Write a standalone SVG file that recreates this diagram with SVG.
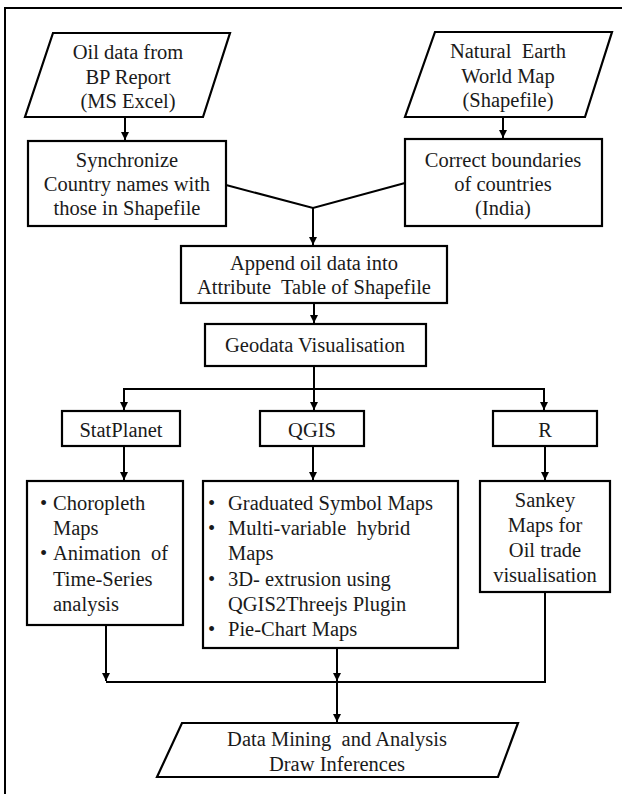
<svg xmlns="http://www.w3.org/2000/svg" width="622" height="794" viewBox="0 0 622 794" font-family="Liberation Serif, DejaVu Serif, serif" font-size="20.5">
<style>
.box{fill:#fff;stroke:#000;stroke-width:2.2}
.ln{fill:none;stroke:#000;stroke-width:2}
text{fill:#1a1a1a;white-space:pre}
.c{text-anchor:middle}
</style>
<defs>
<marker id="ah" markerUnits="userSpaceOnUse" markerWidth="10" markerHeight="10" refX="8" refY="4" orient="auto">
<path d="M0,0 L8,4 L0,8 Z" fill="#000"/>
</marker>
</defs>
<rect width="622" height="794" fill="#fff"/>
<path class="ln" d="M5,800 V8 H630"/>
<g id="connectors">
<line class="ln" x1="125" y1="117" x2="125" y2="140" marker-end="url(#ah)"/>
<line class="ln" x1="503" y1="117" x2="503" y2="138" marker-end="url(#ah)"/>
<polyline class="ln" points="226,185 313,208 405,183"/>
<line class="ln" x1="313" y1="208" x2="313" y2="245" marker-end="url(#ah)"/>
<line class="ln" x1="314" y1="303" x2="314" y2="323" marker-end="url(#ah)"/>
<line class="ln" x1="314" y1="366" x2="314" y2="410" marker-end="url(#ah)"/>
<line class="ln" x1="123" y1="389" x2="545" y2="389"/>
<line class="ln" x1="124" y1="389" x2="124" y2="410" marker-end="url(#ah)"/>
<line class="ln" x1="544" y1="389" x2="544" y2="410" marker-end="url(#ah)"/>
<line class="ln" x1="124" y1="446" x2="124" y2="480" marker-end="url(#ah)"/>
<line class="ln" x1="313" y1="446" x2="313" y2="480" marker-end="url(#ah)"/>
<line class="ln" x1="545" y1="446" x2="545" y2="480" marker-end="url(#ah)"/>
<line class="ln" x1="106" y1="625" x2="106" y2="681" marker-end="url(#ah)"/>
<polyline class="ln" points="106,682 545,682 545,592"/>
<line class="ln" x1="337" y1="648" x2="337" y2="681" marker-end="url(#ah)"/>
<line class="ln" x1="337" y1="682" x2="337" y2="722" marker-end="url(#ah)"/>
</g>
<g id="oil-data">
<polygon class="box" points="53,33 230,33 203,117 25,117"/>
<text class="c" x="128" y="59">Oil data from</text>
<text class="c" x="128" y="84">BP Report</text>
<text class="c" x="128" y="108">(MS Excel)</text>
</g>
<g id="natural-earth">
<polygon class="box" points="435,32 612,32 585,117 405,117"/>
<text class="c" x="508" y="58">Natural  Earth</text>
<text class="c" x="508" y="83">World Map</text>
<text class="c" x="508" y="107">(Shapefile)</text>
</g>
<g id="synchronize">
<rect class="box" x="28" y="141" width="198" height="85"/>
<text class="c" x="127" y="167">Synchronize</text>
<text class="c" x="127" y="191">Country names with</text>
<text class="c" x="127" y="215">those in Shapefile</text>
</g>
<g id="correct-boundaries">
<rect class="box" x="405" y="139" width="197" height="87"/>
<text class="c" x="503" y="167">Correct boundaries</text>
<text class="c" x="503" y="191">of countries</text>
<text class="c" x="503" y="215">(India)</text>
</g>
<g id="append">
<rect class="box" x="181" y="246" width="266" height="57"/>
<text class="c" x="314" y="270">Append oil data into</text>
<text class="c" x="314" y="294">Attribute  Table of Shapefile</text>
</g>
<g id="geodata">
<rect class="box" x="205" y="324" width="221" height="42"/>
<text class="c" x="315" y="352">Geodata Visualisation</text>
</g>
<g id="statplanet">
<rect class="box" x="62" y="411" width="118" height="35"/>
<text class="c" x="121" y="437">StatPlanet</text>
</g>
<g id="qgis">
<rect class="box" x="260" y="411" width="104" height="35"/>
<text class="c" x="312" y="437">QGIS</text>
</g>
<g id="r">
<rect class="box" x="493" y="411" width="104" height="35"/>
<text class="c" x="545" y="437">R</text>
</g>
<g id="statplanet-outputs">
<rect class="box" x="27" y="481" width="156" height="144"/>
<text x="40" y="510">•</text><text x="53" y="510">Choropleth</text>
<text x="53" y="535">Maps</text>
<text x="40" y="560">•</text><text x="53" y="560">Animation  of</text>
<text x="53" y="586">Time-Series</text>
<text x="53" y="611">analysis</text>
</g>
<g id="qgis-outputs">
<rect class="box" x="203" y="481" width="255" height="167"/>
<text x="208" y="510">•</text><text x="228" y="510">Graduated Symbol Maps</text>
<text x="208" y="535">•</text><text x="228" y="535">Multi-variable  hybrid</text>
<text x="228" y="560">Maps</text>
<text x="208" y="586">•</text><text x="228" y="586">3D- extrusion using</text>
<text x="228" y="611">QGIS2Threejs Plugin</text>
<text x="208" y="636">•</text><text x="228" y="636">Pie-Chart Maps</text>
</g>
<g id="r-outputs">
<rect class="box" x="480" y="481" width="130" height="111"/>
<text class="c" x="545" y="507">Sankey</text>
<text class="c" x="545" y="532">Maps for</text>
<text class="c" x="545" y="557">Oil trade</text>
<text class="c" x="545" y="582">visualisation</text>
</g>
<g id="data-mining">
<polygon class="box" points="182,723 518,723 498,777 157,777"/>
<text class="c" x="337" y="746">Data Mining  and Analysis</text>
<text class="c" x="337" y="771">Draw Inferences</text>
</g>
</svg>
